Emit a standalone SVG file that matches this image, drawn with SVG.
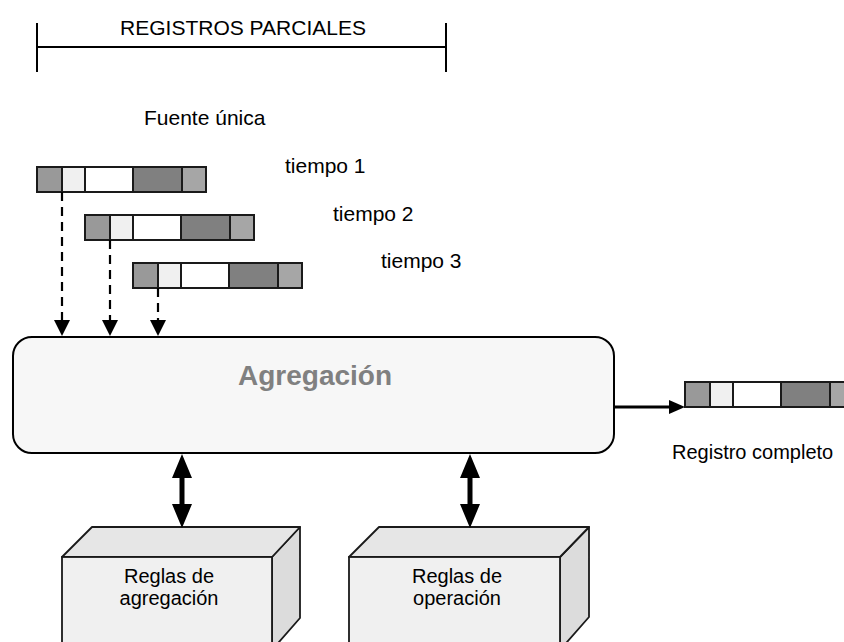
<svg xmlns="http://www.w3.org/2000/svg" xmlns:xlink="http://www.w3.org/1999/xlink" width="844" height="642" viewBox="0 0 844 642">
  <style>
    .t { font-family: "Liberation Sans", Arial, sans-serif; font-size: 21px; fill: #000; }
    .r { font-family: "Liberation Sans", Arial, sans-serif; font-size: 20px; fill: #000; }
    .c { stroke: #1a1a1a; stroke-width: 2; }
    .dash { stroke: #000; stroke-width: 2.2; stroke-dasharray: 9 6; fill: none; }
    .head { fill: #000; }
    .front { fill: #f0f0f0; stroke: #1a1a1a; stroke-width: 1.8; }
    .top { fill: #e6e6e6; stroke: #1a1a1a; stroke-width: 1.8; stroke-linejoin: round; }
    .side { fill: #dcdcdc; stroke: #1a1a1a; stroke-width: 1.8; stroke-linejoin: round; }
  </style>
  <defs>
    <g id="record">
      <rect class="c" x="0" y="0" width="25" height="25" fill="#999999"/>
      <rect class="c" x="25" y="0" width="23" height="25" fill="#f0f0f0"/>
      <rect class="c" x="48" y="0" width="48" height="25" fill="#ffffff"/>
      <rect class="c" x="96" y="0" width="49" height="25" fill="#808080"/>
      <rect class="c" x="145" y="0" width="24" height="25" fill="#a6a6a6"/>
    </g>
  </defs>

  <g id="registros-parciales">
    <line x1="37" y1="47" x2="446" y2="47" stroke="#000" stroke-width="2"/>
    <line x1="37" y1="23" x2="37" y2="72" stroke="#000" stroke-width="2"/>
    <line x1="446" y1="23" x2="446" y2="72" stroke="#000" stroke-width="2"/>
    <text class="t" x="243" y="35" text-anchor="middle">REGISTROS PARCIALES</text>
  </g>

  <g id="fuente-unica">
    <text class="t" x="144" y="125">Fuente única</text>
  </g>

  <g id="tiempo1">
    <use xlink:href="#record" x="37" y="167"/>
    <text class="t" x="285" y="173">tiempo 1</text>
  </g>
  <g id="tiempo2">
    <use xlink:href="#record" x="85" y="215"/>
    <text class="t" x="333" y="221">tiempo 2</text>
  </g>
  <g id="tiempo3">
    <use xlink:href="#record" x="133" y="263"/>
    <text class="t" x="381" y="268">tiempo 3</text>
  </g>

  <g id="agregacion">
    <rect x="13" y="337" width="601" height="116" rx="19" ry="19" fill="#f7f7f7" stroke="#000" stroke-width="2"/>
    <text x="315" y="385" text-anchor="middle" font-family="'Liberation Sans', Arial, sans-serif" font-size="28" font-weight="bold" fill="#808080">Agregación</text>
  </g>

  <g id="registro-completo">
    <use xlink:href="#record" x="685" y="382"/>
    <text class="r" x="672" y="459">Registro completo</text>
  </g>

  <g id="reglas-agregacion">
    <polygon class="side" points="272,557 300,527 300,618 272,650"/>
    <polygon class="top" points="62,557 92,527 300,527 272,557"/>
    <rect class="front" x="62" y="557" width="210" height="95"/>
    <text class="r" x="169" y="583" text-anchor="middle">Reglas de</text>
    <text class="r" x="169" y="605" text-anchor="middle">agregación</text>
  </g>

  <g id="reglas-operacion">
    <polygon class="side" points="560,557 589,527 589,617 560,650"/>
    <polygon class="top" points="349,557 379,527 589,527 560,557"/>
    <rect class="front" x="349" y="557" width="211" height="95"/>
    <text class="r" x="457" y="583" text-anchor="middle">Reglas de</text>
    <text class="r" x="457" y="605" text-anchor="middle">operación</text>
  </g>

  <g id="connectors">
    <line class="dash" x1="62" y1="192" x2="62" y2="321"/>
    <polygon class="head" points="54,320 70,320 62,336"/>
    <line class="dash" x1="110" y1="240" x2="110" y2="321"/>
    <polygon class="head" points="102,320 118,320 110,336"/>
    <line class="dash" x1="158" y1="288" x2="158" y2="321"/>
    <polygon class="head" points="150,320 166,320 158,336"/>

    <line x1="614" y1="407" x2="671" y2="407" stroke="#000" stroke-width="3"/>
    <polygon class="head" points="669,400 685,407 669,414"/>

    <polygon class="head" points="182,454 192,478 184.5,478 184.5,504 192,504 182,528 172,504 179.5,504 179.5,478 172,478"/>
    <polygon class="head" points="470,454 480,478 472.5,478 472.5,504 480,504 470,528 460,504 467.5,504 467.5,478 460,478"/>
  </g>
</svg>
